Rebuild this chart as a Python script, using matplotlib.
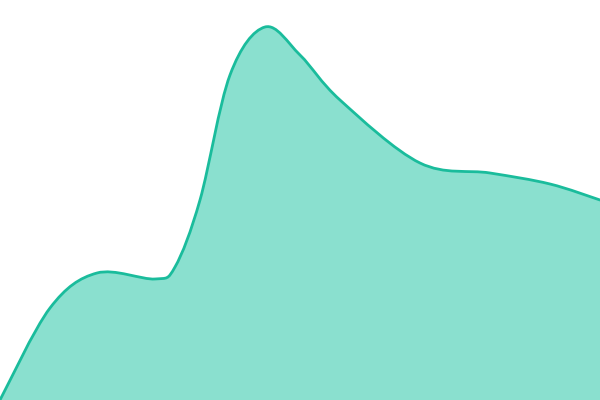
import matplotlib
matplotlib.use("Agg")
import matplotlib.pyplot as plt
from matplotlib.path import Path
from matplotlib.patches import PathPatch

# points (x position, value)
xs = [0, 50, 97, 155, 175, 200, 230, 265, 300, 340, 420, 490, 550, 600]
vals = [0, 92, 127, 121, 133, 200, 325, 373, 345, 300, 237, 227, 216, 200]

line_col = "#1abc9c"
fill_col = "#8ae0cf"


def smooth_path(x, y):
    # catmull-rom -> cubic bezier segments
    pts = list(zip(x, y))
    verts = [pts[0]]
    codes = [Path.MOVETO]
    n = len(pts)
    for i in range(n - 1):
        p0 = pts[i - 1] if i > 0 else pts[i]
        p1 = pts[i]
        p2 = pts[i + 1]
        p3 = pts[i + 2] if i + 2 < n else pts[i + 1]
        c1 = (p1[0] + (p2[0] - p0[0]) / 6, p1[1] + (p2[1] - p0[1]) / 6)
        c2 = (p2[0] - (p3[0] - p1[0]) / 6, p2[1] - (p3[1] - p1[1]) / 6)
        verts += [c1, c2, p2]
        codes += [Path.CURVE4] * 3
    return verts, codes


fig = plt.figure(figsize=(6, 4), dpi=100)
ax = fig.add_axes([0, 0, 1, 1])
ax.set_xlim(0, 600)
ax.set_ylim(0, 400)
ax.axis("off")

v, c = smooth_path(xs, vals)
fill_v = v + [(xs[-1], 0), (xs[0], 0), v[0]]
fill_c = c + [Path.LINETO, Path.LINETO, Path.CLOSEPOLY]
ax.add_patch(PathPatch(Path(fill_v, fill_c), facecolor=fill_col, edgecolor="none"))
ax.add_patch(PathPatch(Path(v, c), facecolor="none", edgecolor=line_col, lw=2, capstyle="round"))

fig.savefig("out.png", dpi=100)
